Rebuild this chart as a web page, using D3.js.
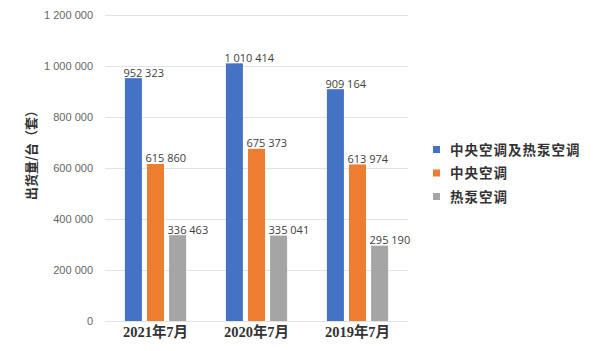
<!DOCTYPE html>
<html><head><meta charset="utf-8">
<script src="https://cdn.jsdelivr.net/npm/d3@7"></script>
<style>
html,body{margin:0;padding:0;background:#fff;}
svg{display:block;}
</style></head>
<body>
<svg id="c" width="593" height="351"></svg>
<script>
const categories = ["2021年7月", "2020年7月", "2019年7月"];
const seriesNames = ["中央空调及热泵空调", "中央空调", "热泵空调"];
const seriesColors = ["#4472c4", "#ed7d31", "#a5a5a5"];
const totalValues = [952323, 1010414, 909164];
const centralValues = [615860, 675373, 613974];
const heatPumpValues = [336463, 335041, 295190];
const yTicks = [0, 200000, 400000, 600000, 800000, 1000000, 1200000];
const yTitle = "出货量/台（套）";

const series = [totalValues, centralValues, heatPumpValues];
const svg = d3.select("#c");
const m = {left: 105, right: 408, top: 15, bottom: 321};

const x = d3.scaleBand().domain(categories).range([m.left, m.right]).paddingInner(0).paddingOuter(0);
const y = d3.scaleLinear().domain([0, 1200000]).range([m.bottom, m.top]);
const fmt = v => d3.format(",")(v).replace(/,/g, " ");

// grid
svg.append("g").selectAll("line").data(yTicks).join("line")
  .attr("x1", m.left).attr("x2", m.right)
  .attr("y1", d => y(d)).attr("y2", d => y(d))
  .attr("stroke", "#e3e3e3").attr("stroke-width", 1).attr("shape-rendering", "crispEdges");

// y axis labels
const yAxis = d3.axisLeft(y).tickValues(yTicks).tickFormat(fmt).tickSize(0).tickPadding(0);
const ga = svg.append("g").attr("transform", `translate(${m.left - 12},0)`).call(yAxis);
ga.select(".domain").remove();
ga.selectAll("text").attr("font-family", "Liberation Sans, Arial, sans-serif").attr("font-size", 11).attr("fill", "#666");

// x axis
const xAxis = d3.axisBottom(x).tickSize(0).tickPadding(0);
const gx = svg.append("g").attr("transform", `translate(0,${m.bottom + 4})`).call(xAxis);
gx.select(".domain").remove();
gx.selectAll("text").attr("font-family", "'Liberation Serif', 'Noto Sans CJK SC', serif")
  .attr("font-weight", "bold").attr("font-size", 14.5).attr("fill", "#333").attr("dy", "0.8em");

// bars
const x1 = d3.scaleBand().domain(d3.range(3)).range([0, x.bandwidth()]).paddingInner(0.23).paddingOuter(0.9);
series.forEach((vals, si) => {
  const g = svg.append("g");
  g.selectAll("rect").data(vals).join("rect")
    .attr("x", (d, i) => x(categories[i]) + x1(si))
    .attr("y", d => y(d))
    .attr("width", x1.bandwidth())
    .attr("height", d => y(0) - y(d))
    .attr("fill", seriesColors[si]);
  g.selectAll("text").data(vals).join("text")
    .attr("x", (d, i) => x(categories[i]) + x1(si) - 1.5)
    .attr("y", d => y(d) - 1.5)
    .attr("font-family", "'Open Sans', 'DejaVu Sans', sans-serif")
    .attr("font-size", 11).attr("fill", "#404040")
    .text(d => fmt(d));
});

// y title
svg.append("text")
  .attr("transform", "translate(36,152) rotate(-90)")
  .attr("text-anchor", "middle")
  .attr("font-family", "'Noto Sans CJK SC', sans-serif")
  .attr("font-weight", "bold").attr("font-size", 13).attr("fill", "#333")
  .text(yTitle);

// legend
const lg = svg.append("g");
seriesNames.forEach((n, i) => {
  const yy = 150 + i * 23.5;
  lg.append("rect").attr("x", 433).attr("y", yy - 4).attr("width", 7).attr("height", 7).attr("fill", seriesColors[i]);
  lg.append("text").attr("x", 450).attr("y", yy).attr("dy", "0.35em")
    .attr("font-family", "'Noto Sans CJK SC', sans-serif").attr("font-weight", "bold")
    .attr("font-size", 13.5).attr("fill", "#333").attr("letter-spacing", "1px").text(n);
});
</script>
</body></html>
